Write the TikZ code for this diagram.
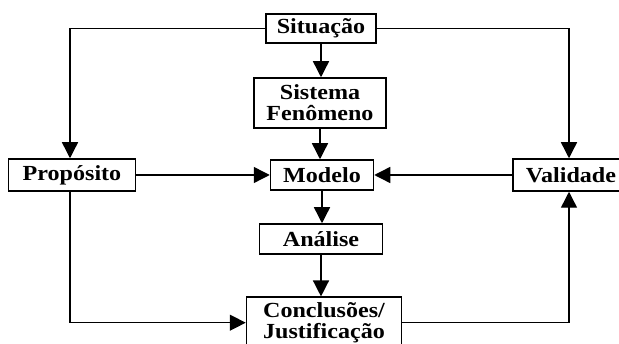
\documentclass[tikz,border=0pt]{standalone}
\usepackage{fontspec}
\setmainfont{Liberation Serif}[FakeStretch=1.12]
\usepackage{tikz}
\usetikzlibrary{arrows.meta}

\begin{document}
\begin{tikzpicture}[x=1pt,y=-1pt,>={Triangle[length=16pt,width=16pt]},
        box/.style={draw,line width=1.5pt,inner sep=0pt,align=center,
          font=\fontsize{21.5}{21}\selectfont\bfseries},
        line width=1.4pt]
        \useasboundingbox (0,0) rectangle (619,344);
        \node[box, minimum width=110pt, minimum height=29pt] (sit) at (321,28.5) {Situação};
        \node[box, minimum width=132pt, minimum height=50pt] (sis) at (320,103) {Sistema\\Fenômeno};
        \node[box, minimum width=127pt, minimum height=32pt] (prop) at (72,175) {Propósito};
        \node[box, minimum width=103pt, minimum height=30pt] (mod) at (322,175) {Modelo};
        \node[box, minimum width=116pt, minimum height=32pt] (val) at (571,175) {Validade};
        \node[box, minimum width=123pt, minimum height=30pt] (ana) at (321,239) {Análise};
        \node[box, minimum width=155pt, minimum height=51pt] (conc) at (324,322.7) {Conclusões/\\Justificação};

        \draw[->] (sit) -- (sit |- sis.north);
        \draw[->] (sis) -- (sis |- mod.north);
        \draw[->] (sit.west) -| ([xshift=-2pt]prop.north);
        \draw[->] (sit.east) -| ([xshift=-2pt]val.north);
        \draw[->] (prop) -- (mod);
        \draw[->] (val) -- (mod);
        \draw[->] (mod) -- (mod |- ana.north);
        \draw[->] (ana) -- (ana |- conc.north);
        \draw[->] ([xshift=-2pt]prop.south) |- (conc.west);
        \draw[->] (conc.east) -| ([xshift=-2pt]val.south);
      \end{tikzpicture}
\end{document}
